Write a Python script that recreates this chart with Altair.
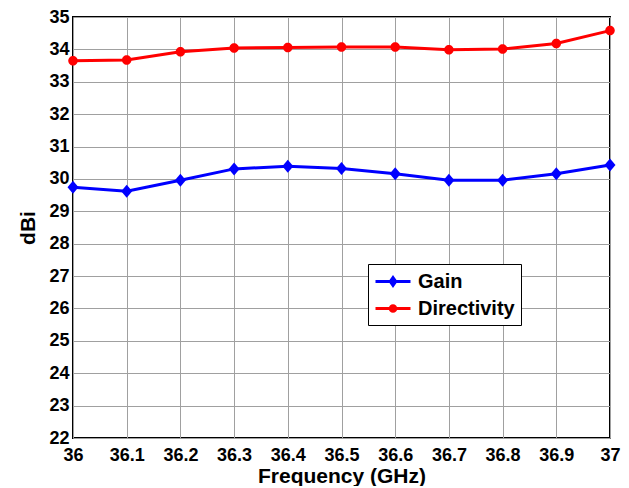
import altair as alt
import pandas as pd

# ---- data ----
freq = [36.0, 36.1, 36.2, 36.3, 36.4, 36.5, 36.6, 36.7, 36.8, 36.9, 37.0]
gain = [29.74, 29.62, 29.96, 30.31, 30.39, 30.32, 30.16, 29.96, 29.96, 30.16, 30.43]
directivity = [33.65, 33.67, 33.93, 34.04, 34.06, 34.07, 34.07, 33.99, 34.01, 34.18, 34.58]

series_names = ["Gain", "Directivity"]
series_colors = ["#0000ff", "#ff0000"]
x_ticks = [36.0, 36.1, 36.2, 36.3, 36.4, 36.5, 36.6, 36.7, 36.8, 36.9, 37.0]
y_ticks = [22, 23, 24, 25, 26, 27, 28, 29, 30, 31, 32, 33, 34, 35]

rows = []
for f, g, d in zip(freq, gain, directivity):
    rows.append({"freq": f, "value": g, "series": "Gain"})
    rows.append({"freq": f, "value": d, "series": "Directivity"})
df = pd.DataFrame(rows)

FONT = "Liberation Sans"
GRID = "#a0a0a0"

# marker shapes (plot) and legend symbols (line + marker)
diamond_path = "M0,-1.3L1.1,0L0,1.3L-1.1,0Z"
circle_path = "M0.95,0A0.95,0.95,0,1,1,-0.95,0A0.95,0.95,0,1,1,0.95,0Z"
leg_gain = "M-1,0H2.5M0.75,-0.38L1.02,0L0.75,0.38L0.48,0ZM0.75,-0.17L0.87,0L0.75,0.17L0.63,0Z"
leg_dir = "M-1,0H2.5M1.03,0A0.28,0.28,0,1,1,0.47,0A0.28,0.28,0,1,1,1.03,0ZM0.87,0A0.12,0.12,0,1,1,0.63,0A0.12,0.12,0,1,1,0.87,0Z"

x_enc = alt.X(
    "freq:Q",
    scale=alt.Scale(domain=[36, 37], nice=False, zero=False),
    axis=alt.Axis(
        values=x_ticks, format=".1~f", title="Frequency (GHz)",
        labelFlush=False, labelOverlap=False, ticks=False, domain=False,
        grid=True, gridColor=GRID, gridWidth=1,
        labelFont=FONT, labelFontSize=18, labelFontWeight="bold", labelColor="black",
        labelPadding=8,
        titleFont=FONT, titleFontSize=21, titleFontWeight="bold", titleColor="black",
        titlePadding=1,
    ),
)
y_enc = alt.Y(
    "value:Q",
    scale=alt.Scale(domain=[22, 35], nice=False, zero=False),
    axis=alt.Axis(
        values=y_ticks, format="d", title="dBi",
        labelFlush=False, labelOverlap=False, ticks=False, domain=False,
        grid=True, gridColor=GRID, gridWidth=1,
        labelFont=FONT, labelFontSize=18, labelFontWeight="bold", labelColor="black",
        labelPadding=4,
        titleFont=FONT, titleFontSize=21, titleFontWeight="bold", titleColor="black",
        titlePadding=10,
    ),
)

color_scale = alt.Scale(domain=series_names, range=series_colors)

lines = alt.Chart(df).mark_line(strokeWidth=3).encode(
    x=x_enc, y=y_enc,
    color=alt.Color("series:N", scale=color_scale, legend=None),
    detail="series:N",
)

points = alt.Chart(df).mark_point(filled=True, size=100, opacity=1).encode(
    x=x_enc, y=y_enc,
    color=alt.Color("series:N", scale=color_scale, legend=None),
    shape=alt.Shape("series:N", scale=alt.Scale(domain=series_names, range=[diamond_path, circle_path]), legend=None),
)

legend = alt.Legend(
    title=None, orient="none", legendX=295, legendY=247, direction="vertical",
    strokeColor="black", fillColor="white", padding=6, cornerRadius=0,
    labelFont=FONT, labelFontSize=20, labelFontWeight="bold", labelColor="black",
    symbolSize=400, labelOffset=21, rowPadding=5, symbolStrokeWidth=3, symbolOpacity=1,
)

legend_layer = alt.Chart(df).transform_filter("false").mark_point(filled=False, strokeWidth=3).encode(
    x=x_enc, y=y_enc,
    color=alt.Color("series:N", scale=color_scale, legend=legend),
    shape=alt.Shape("series:N", scale=alt.Scale(domain=series_names, range=[leg_gain, leg_dir]), legend=legend),
)

chart = (
    alt.layer(lines, points, legend_layer)
    .resolve_scale(color="independent", shape="independent")
    .properties(
        width=537, height=421,
        autosize=alt.AutoSizeParams(type="none"),
        padding={"left": 65, "top": 9, "right": 11, "bottom": 48},
        background="white",
    )
    .configure_view(stroke="black", strokeWidth=2)
)

chart.save("out.html", embed_options={"renderer": "svg", "actions": False})
